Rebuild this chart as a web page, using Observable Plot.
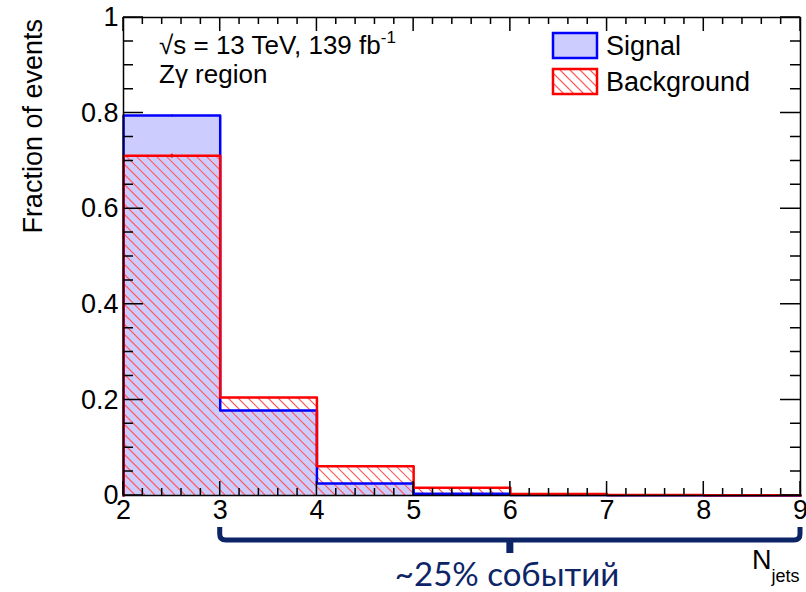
<!DOCTYPE html>
<html>
<head>
<meta charset="utf-8">
<script src="https://cdn.jsdelivr.net/npm/d3@7"></script>
<script src="https://cdn.jsdelivr.net/npm/@observablehq/plot@0.6"></script>
<style>
  html, body { margin: 0; padding: 0; background: #fff; }
  #chart svg { display: block; }
</style>
</head>
<body>
<div id="chart"></div>
<script>
// ---- data ----
const binEdges = [2, 3, 4, 5, 6, 7, 8, 9];
const signal = [0.795, 0.178, 0.025, 0.0035, 0.001, 0.0003, 0.0001];
const background = [0.711, 0.205, 0.061, 0.016, 0.003, 0.001, 0.0005];
const xTicks = [2, 3, 4, 5, 6, 7, 8, 9];
const yTicks = [0, 0.2, 0.4, 0.6, 0.8, 1];
const legendLabels = ["Signal", "Background"];
const annotation = "~25% событий";

// ---- derived tables ----
const bins = signal.map((s, i) => ({x1: binEdges[i], x2: binEdges[i + 1], sig: s, bkg: background[i]}));
function stepPoints(vals) {
  const pts = [{x: binEdges[0], y: 0}];
  vals.forEach((v, i) => { pts.push({x: binEdges[i], y: v}); pts.push({x: binEdges[i + 1], y: v}); });
  pts.push({x: binEdges[binEdges.length - 1], y: 0});
  return pts;
}
const sigLine = stepPoints(signal);
const bkgLine = stepPoints(background);

const W = 806, H = 592;
const mL = 123, mR = 6, mT = 17, mB = 97;
const pxPerY = (H - mT - mB);
const pxPerX = (W - mL - mR) / 7;

const xMinor = d3.range(0, 36).map(i => ({v: 2 + i * 0.2, major: i % 5 === 0}));
const yMinor = d3.range(0, 21).map(i => ({v: i * 0.05, major: i % 4 === 0}));

const font = "'Liberation Sans', Arial, Helvetica, sans-serif";
const navy = "#0d2566";
const hatchColor = "#ff5a5a";
const hatchStep = 10;

function scalesOf(scales) {
  const X = v => (scales && scales.x) ? scales.x(v) : mL + (v - 2) * pxPerX;
  const Y = v => (scales && scales.y) ? scales.y(v) : mT + (1 - v) * pxPerY;
  return {X, Y};
}

function mkText(parent, x, y, str, opts = {}) {
  const t = parent.append("text")
    .attr("x", x).attr("y", y)
    .attr("text-anchor", opts.anchor || "start")
    .attr("font-family", opts.family || font)
    .attr("font-size", opts.size || 27)
    .attr("fill", opts.fill || "#000");
  if (str != null) t.text(str);
  return t;
}

function hatchRect(g, xa, xb, ya, yb) {
  const cMin = xa - yb, cMax = xb - ya;
  const kStart = Math.ceil(cMin / hatchStep), kEnd = Math.floor(cMax / hatchStep);
  let d = "";
  for (let k = kStart; k <= kEnd; k++) {
    const c = k * hatchStep;
    const sx = Math.max(xa, ya + c), ex = Math.min(xb, yb + c);
    if (ex > sx) d += `M${sx.toFixed(2)},${(sx - c).toFixed(2)}L${ex.toFixed(2)},${(ex - c).toFixed(2)}`;
  }
  g.append("path").attr("d", d).attr("fill", "none").attr("stroke", hatchColor).attr("stroke-width", 1.1);
}

function hatchMark(index, scales) {
  const {X, Y} = scalesOf(scales);
  const g = d3.create("svg:g");
  bins.forEach(b => {
    const ya = Y(b.bkg), yb = Y(0);
    if (yb - ya > 1) hatchRect(g, X(b.x1), X(b.x2), ya, yb);
  });
  return g.node();
}

// ROOT-style inside ticks on all four sides, placed through Plot's scales
function ticksMark(index, scales) {
  const {X, Y} = scalesOf(scales);
  const g = d3.create("svg:g");
  const x0 = X(2), x1 = X(9), y0 = Y(0), y1 = Y(1);
  let d = "";
  xMinor.forEach(t => {
    const px = X(t.v), len = t.major ? 14 : 7;
    d += `M${px},${y0}L${px},${y0 - len}M${px},${y1}L${px},${y1 + len}`;
  });
  yMinor.forEach(t => {
    const py = Y(t.v), len = t.major ? 20 : 10;
    d += `M${x0},${py}L${x0 + len},${py}M${x1},${py}L${x1 - len},${py}`;
  });
  g.append("path").attr("d", d).attr("fill", "none").attr("stroke", "#000").attr("stroke-width", 1.5);
  return g.node();
}

function decoMark(index, scales) {
  const {X, Y} = scalesOf(scales);
  const g = d3.create("svg:g");
  mkText(g, 0, 0, "Fraction of events", {anchor: "end"})
    .attr("x", null).attr("y", null)
    .attr("transform", `translate(42, ${Y(1) + 2}) rotate(-90)`);
  const lumi = mkText(g, 159, 54, null, {size: 26});
  lumi.append("tspan").text("√s = 13 TeV, 139 fb");
  lumi.append("tspan").attr("dy", -11).attr("font-size", 17).text("-1");
  mkText(g, 159, 83, "Zγ region", {size: 26});
  // legend
  g.append("rect").attr("x", 553).attr("y", 33).attr("width", 44).attr("height", 25)
    .attr("fill", "#ccccff").attr("stroke", "#0000ff").attr("stroke-width", 2.5);
  mkText(g, 606, 55, legendLabels[0]);
  hatchRect(g, 553, 597, 69, 94);
  g.append("rect").attr("x", 553).attr("y", 69).attr("width", 44).attr("height", 25)
    .attr("fill", "none").attr("stroke", "#ff0000").attr("stroke-width", 2.5);
  mkText(g, 606, 91, legendLabels[1]);
  // N_jets
  const nj = mkText(g, 752, 569, null);
  nj.append("tspan").text("N");
  nj.append("tspan").attr("dy", 13).attr("font-size", 18).text("jets");
  // brace
  const bx0 = X(3), bx1 = X(9), xm = X(6);
  const yTop = 527, yLine = 540, yStub = 553, r = 6;
  g.append("path")
    .attr("d", `M${bx0},${yTop} L${bx0},${yLine - r} Q${bx0},${yLine} ${bx0 + r},${yLine} L${bx1 - r},${yLine} Q${bx1},${yLine} ${bx1},${yLine - r} L${bx1},${yTop}`)
    .attr("fill", "none").attr("stroke", navy).attr("stroke-width", 5);
  g.append("path").attr("d", `M${xm},${yLine} L${xm},${yStub}`)
    .attr("fill", "none").attr("stroke", navy).attr("stroke-width", 7);
  mkText(g, 507, 586, annotation, {anchor: "middle", family: "Lato, 'Open Sans', sans-serif", size: 33, fill: navy});
  return g.node();
}

const plot = Plot.plot({
  width: W, height: H,
  marginLeft: mL, marginRight: mR, marginTop: mT, marginBottom: mB,
  x: {domain: [2, 9], label: null},
  y: {domain: [0, 1], label: null},
  style: {fontFamily: font, fontSize: "27px", color: "#000", background: "#fff", overflow: "visible"},
  marks: [
    Plot.rectY(bins, {x1: "x1", x2: "x2", y1: 0, y2: "sig", fill: "#ccccff"}),
    hatchMark,
    Plot.line(sigLine, {x: "x", y: "y", stroke: "#0000ff", strokeWidth: 2.5}),
    Plot.line(bkgLine, {x: "x", y: "y", stroke: "#ff0000", strokeWidth: 2.5}),
    Plot.link([bins[0]], {x1: d => (d.x1 + d.x2) / 2, x2: d => (d.x1 + d.x2) / 2, y1: d => d.bkg - 0.004, y2: d => d.bkg + 0.004, stroke: "#ff0000", strokeWidth: 2}),
    Plot.link([bins[0]], {x1: d => (d.x1 + d.x2) / 2, x2: d => (d.x1 + d.x2) / 2, y1: d => d.sig - 0.002, y2: d => d.sig + 0.002, stroke: "#0000ff", strokeWidth: 1.5}),
    Plot.frame({stroke: "#000", strokeWidth: 1.5}),
    ticksMark,
    Plot.axisX({ticks: xTicks, tickSize: 0, tickPadding: 4, tickFormat: d => String(d), fontSize: 27, label: null}),
    Plot.axisY({ticks: yTicks, tickSize: 0, tickPadding: 5, tickFormat: d => d === 0 ? "0" : d === 1 ? "1" : d.toFixed(1), fontSize: 27, label: null}),
    decoMark
  ]
});

document.getElementById("chart").appendChild(plot);
</script>
</body>
</html>
